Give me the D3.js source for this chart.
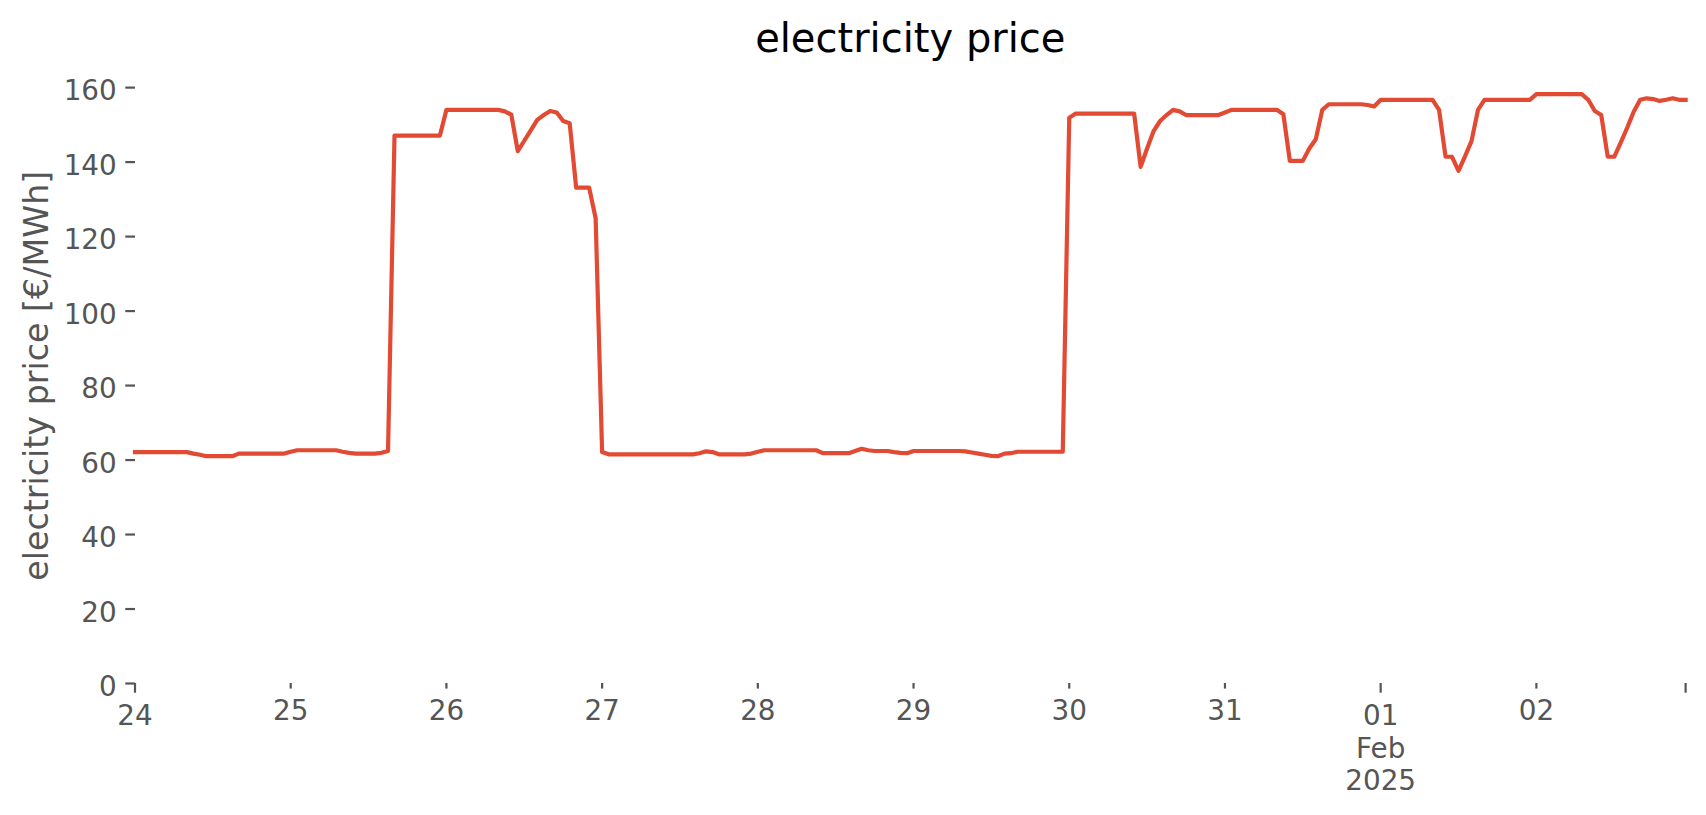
<!DOCTYPE html>
<html>
<head>
<meta charset="utf-8">
<script src="https://cdn.jsdelivr.net/npm/d3@7"></script>
<style>
  html, body { margin: 0; padding: 0; background: #fff; }
  svg { display: block; font-family: "DejaVu Sans", sans-serif; }
</style>
</head>
<body>
<svg id="chart" width="1706" height="815"></svg>
<script>
// ---- data: hourly electricity price [€/MWh], one array per day ----
const startDate = "2025-01-24T00:00:00Z";
const jan24 = [62.0,62.0,62.0,62.0,62.0,62.0,62.0,62.0,62.0,61.6,61.3,60.9,60.9,60.9,60.9,60.9,61.6,61.6,61.6,61.6,61.6,61.6,61.6,61.6];
const jan25 = [62.1,62.5,62.5,62.5,62.5,62.5,62.5,62.5,62.1,61.8,61.6,61.6,61.6,61.6,61.8,62.3,147.0,147.0,147.0,147.0,147.0,147.0,147.0,147.0];
const jan26 = [153.9,153.9,153.9,153.9,153.9,153.9,153.9,153.9,153.9,153.5,152.6,142.8,145.6,148.4,151.2,152.5,153.6,153.2,150.9,150.3,133.0,133.0,133.0,124.8];
const jan27 = [62.0,61.4,61.4,61.4,61.4,61.4,61.4,61.4,61.4,61.4,61.4,61.4,61.4,61.4,61.4,61.7,62.2,62.0,61.4,61.4,61.4,61.4,61.4,61.6];
const jan28 = [62.1,62.5,62.5,62.5,62.5,62.5,62.5,62.5,62.5,62.5,61.7,61.7,61.7,61.7,61.7,62.3,62.9,62.5,62.3,62.3,62.3,62.0,61.8,61.7];
const jan29 = [62.3,62.3,62.3,62.3,62.3,62.3,62.3,62.3,62.2,61.9,61.6,61.3,61.0,60.9,61.6,61.7,62.1,62.1,62.1,62.1,62.1,62.1,62.1,62.1];
const jan30 = [151.8,152.9,152.9,152.9,152.9,152.9,152.9,152.9,152.9,152.9,152.9,138.6,143.5,148.2,150.9,152.5,153.9,153.5,152.5,152.5,152.5,152.5,152.5,152.5];
const jan31 = [153.2,153.9,153.9,153.9,153.9,153.9,153.9,153.9,153.9,152.7,140.2,140.2,140.2,143.5,146.0,153.9,155.4,155.4,155.4,155.4,155.4,155.4,155.2,154.8];
const feb01 = [156.6,156.6,156.6,156.6,156.6,156.6,156.6,156.6,156.6,153.9,141.3,141.3,137.5,141.4,145.5,153.9,156.6,156.6,156.6,156.6,156.6,156.6,156.6,156.6];
const feb02 = [158.1,158.1,158.1,158.1,158.1,158.1,158.1,158.1,156.6,153.6,152.5,141.3,141.3,145.1,149.1,153.4,156.6,157.0,156.8,156.3,156.6,157.0,156.6,156.6];

const dayTickDates = ["2025-01-24","2025-01-25","2025-01-26","2025-01-27","2025-01-28","2025-01-29","2025-01-30","2025-01-31","2025-02-01","2025-02-02"];
const dayTickLabels = [["24"],["25"],["26"],["27"],["28"],["29"],["30"],["31"],["01","Feb","2025"],["02"]];
const majorTickFlags = [true,false,false,false,false,false,false,false,true,false];
const yTicks = [0,20,40,60,80,100,120,140,160];

const titleText = "electricity price";
const yLabelText = "electricity price [€/MWh]";

// ---- build series ----
const allPrices = [].concat(jan24, jan25, jan26, jan27, jan28, jan29, jan30, jan31, feb01, feb02);
const t0 = new Date(startDate).getTime();
const series = allPrices.map((v, i) => ({ t: new Date(t0 + i * 3600e3), v }));

// ---- layout ----
const W = 1706, H = 815;
const mLeft = 135, mRight = 1685.6, mTop = 68.5, mBottom = 683;
const tickColor = "#555555";
const fsTick = 27.8;

const svg = d3.select("#chart");
svg.append("rect").attr("width", W).attr("height", H).attr("fill", "#ffffff");

const x = d3.scaleUtc()
  .domain([series[0].t, series[series.length - 1].t])
  .range([mLeft, mRight]);
const y = d3.scaleLinear().domain([0, 165]).range([mBottom, mTop]);

// ---- y axis ----
const yAxis = d3.axisLeft(y).tickValues(yTicks).tickSize(9.7).tickPadding(8.6).tickFormat(d3.format("d"));
const gy = svg.append("g").attr("transform", `translate(${mLeft},0)`).call(yAxis);
gy.select(".domain").remove();
gy.selectAll(".tick line").attr("stroke", tickColor).attr("stroke-width", 2.2);
gy.selectAll(".tick text")
  .attr("fill", tickColor)
  .attr("font-size", fsTick)
  .attr("font-family", "DejaVu Sans")
  .attr("dy", null)
  .attr("y", 12.6);

// ---- x axis (day ticks + final tick at end of range) ----
const xTicks = dayTickDates.map((d, i) => ({ t: new Date(d + "T00:00:00Z"), lab: dayTickLabels[i], major: majorTickFlags[i] }));
xTicks.push({ t: series[series.length - 1].t, lab: [], major: true });

const gx = svg.append("g").attr("class", "x-axis");
const xt = gx.selectAll("g.tick").data(xTicks).enter().append("g")
  .attr("class", "tick")
  .attr("transform", d => `translate(${x(d.t)},${mBottom})`);
xt.append("line")
  .attr("y1", 0)
  .attr("y2", d => d.major ? 9.7 : 5.6)
  .attr("stroke", tickColor)
  .attr("stroke-width", 2.2);
xt.append("text")
  .attr("text-anchor", "middle")
  .attr("fill", tickColor)
  .attr("font-size", fsTick)
  .attr("font-family", "DejaVu Sans")
  .selectAll("tspan").data(d => d.lab.map((s, k) => ({ s, k, major: d.major }))).enter().append("tspan")
  .attr("x", 0)
  .attr("y", d => (d.major ? 42 : 37) + d.k * 32.6)
  .text(d => d.s);

// ---- line ----
const line = d3.line().x(d => x(d.t)).y(d => y(d.v));
svg.append("path")
  .datum(series)
  .attr("d", line)
  .attr("fill", "none")
  .attr("stroke", "#E24A33")
  .attr("stroke-width", 4.2)
  .attr("stroke-linejoin", "round")
  .attr("stroke-linecap", "square");

// ---- title and y label ----
svg.append("text")
  .attr("x", (mLeft + mRight) / 2)
  .attr("y", 51.7)
  .attr("text-anchor", "middle")
  .attr("font-size", 40)
  .attr("font-family", "DejaVu Sans")
  .attr("fill", "#000000")
  .text(titleText);

svg.append("text")
  .attr("transform", `translate(48,${(mTop + mBottom) / 2}) rotate(-90)`)
  .attr("text-anchor", "middle")
  .attr("font-size", 33.3)
  .attr("font-family", "DejaVu Sans")
  .attr("fill", tickColor)
  .text(yLabelText);
</script>
</body>
</html>
